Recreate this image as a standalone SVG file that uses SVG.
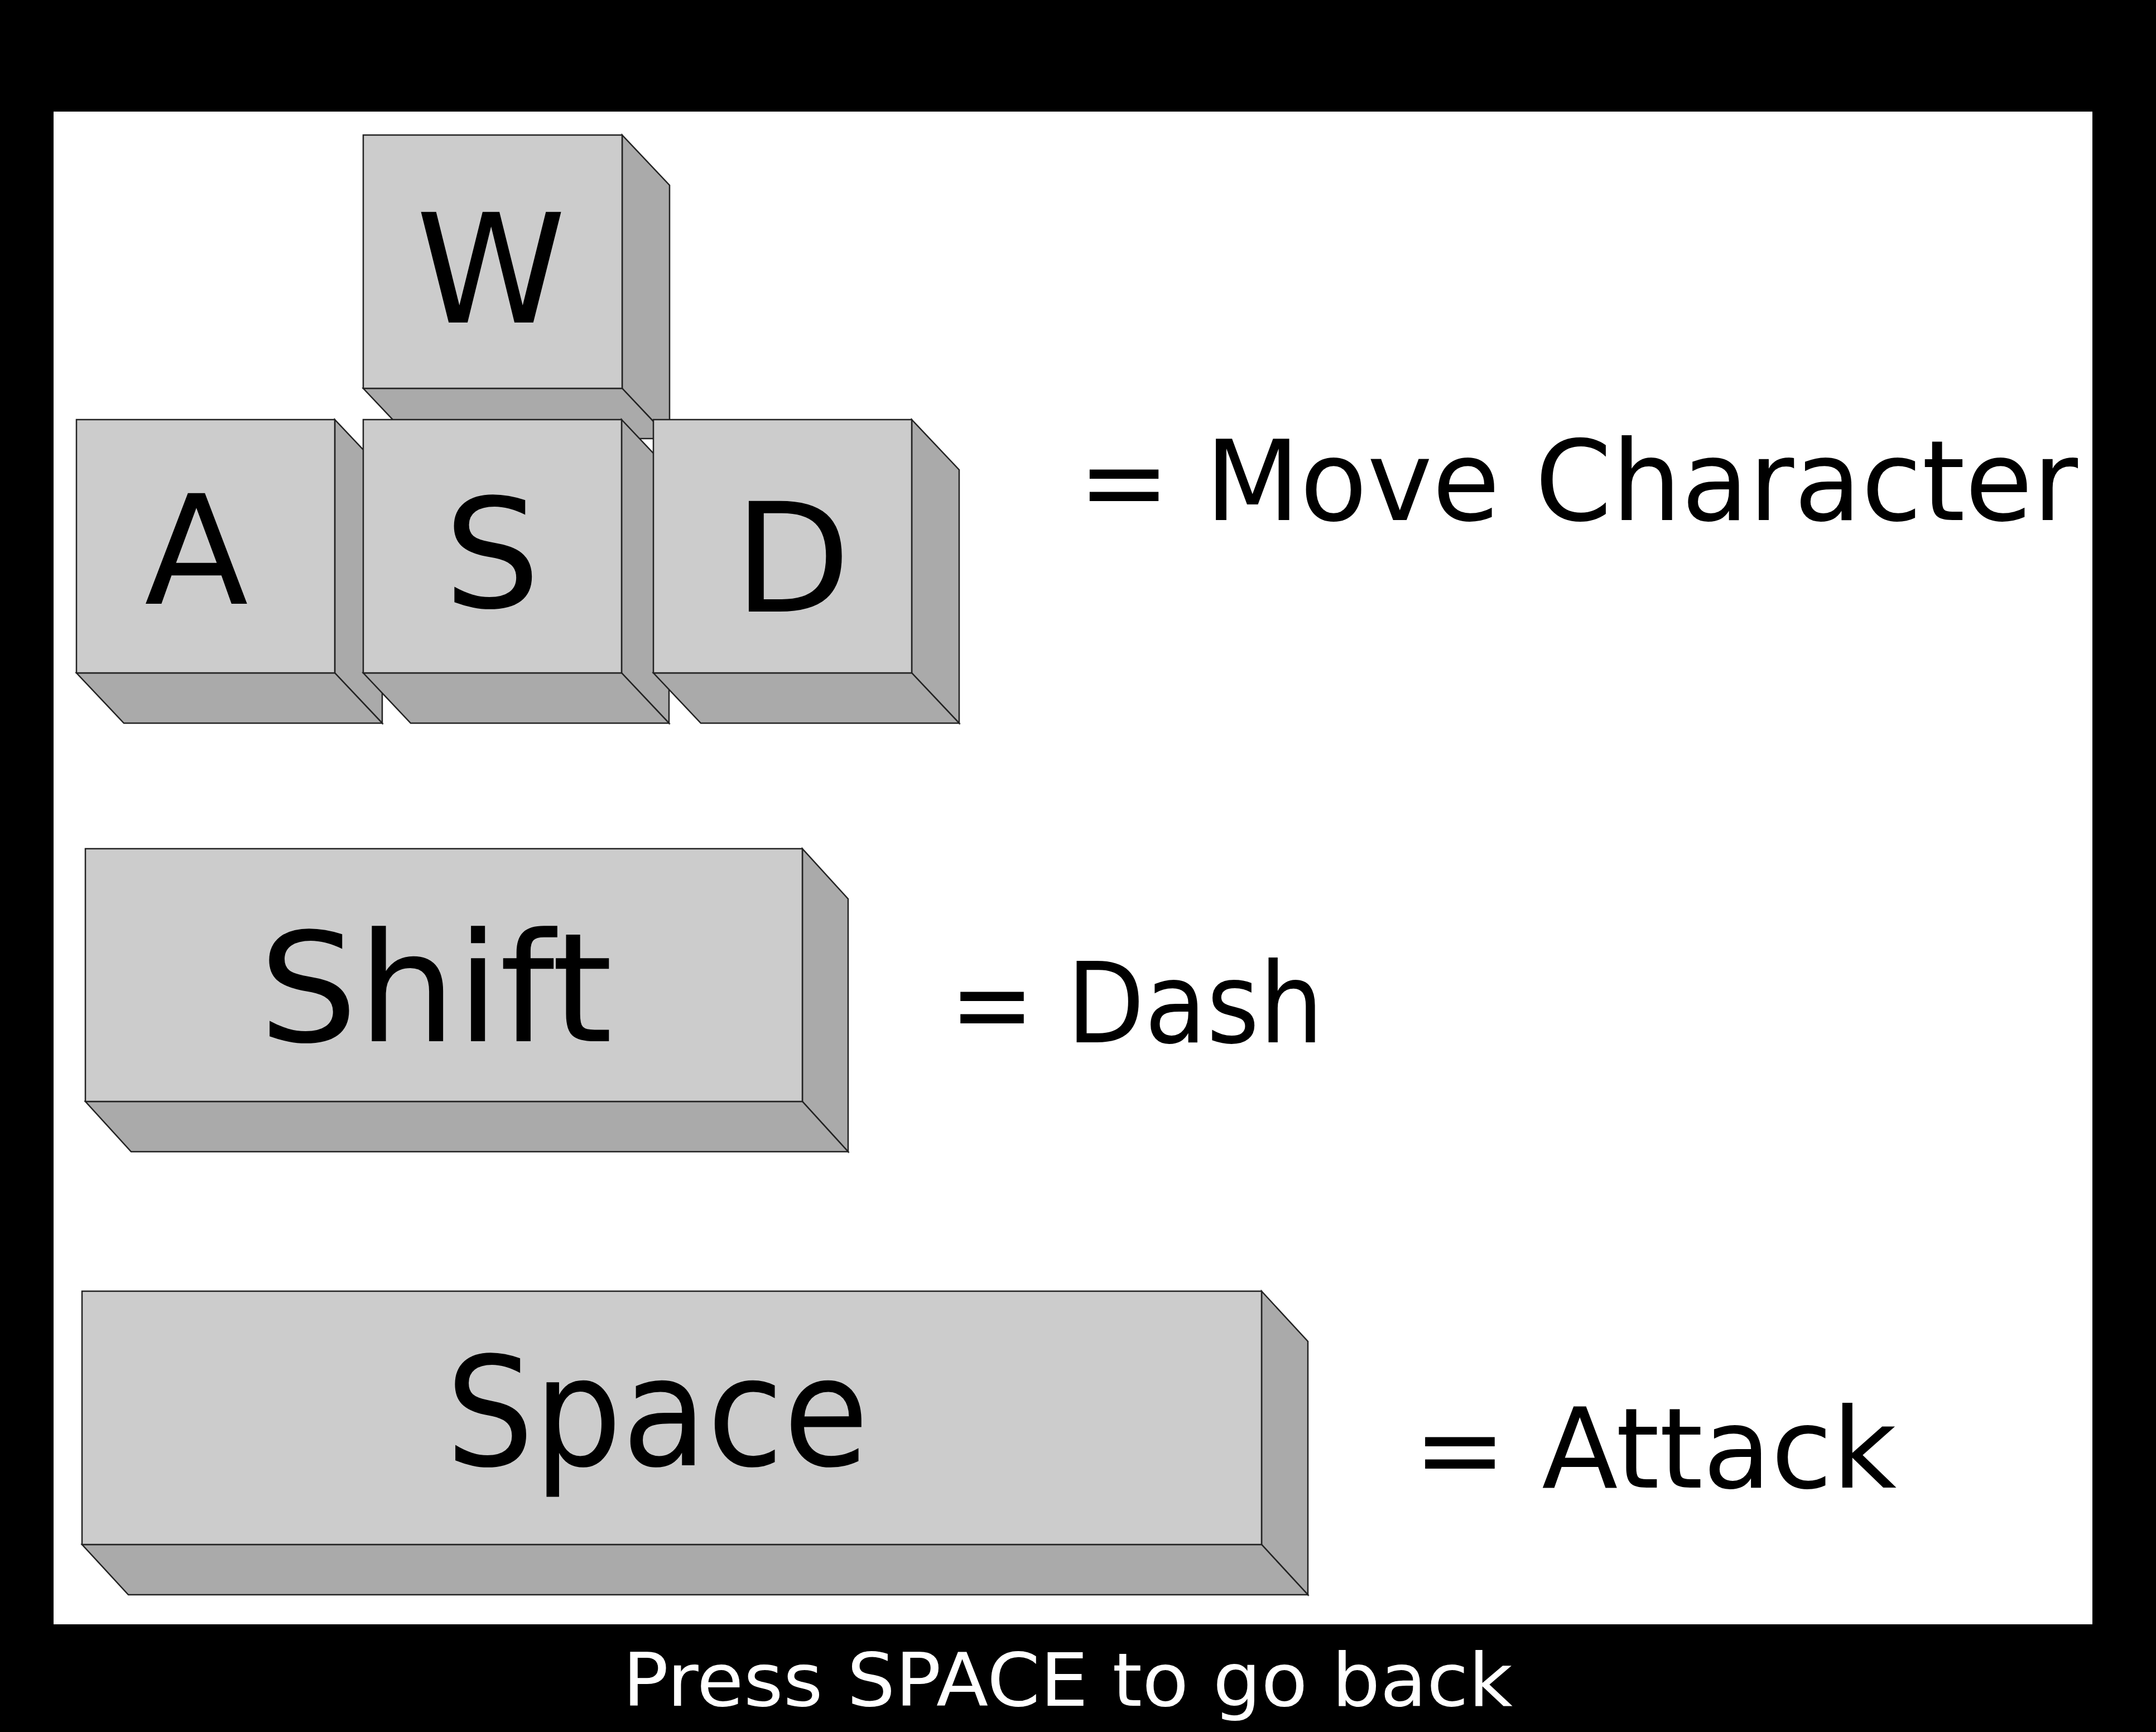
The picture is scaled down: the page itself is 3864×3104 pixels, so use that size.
<svg xmlns="http://www.w3.org/2000/svg" width="3864" height="3104" viewBox="0 0 3864 3104">
<style>
.front{fill:#cccccc;stroke:#222222;stroke-width:2.5}
.depth{fill:#aaaaaa;stroke:#222222;stroke-width:2.5;stroke-linejoin:miter}
.key{font-family:"DejaVu Sans","Liberation Sans",sans-serif;font-size:272px;fill:#000000;text-anchor:middle}
.label{font-family:"DejaVu Sans","Liberation Sans",sans-serif;font-size:200px;fill:#000000}
.footer{font-family:"DejaVu Sans","Liberation Sans",sans-serif;font-size:132px;fill:#ffffff}
</style>
<rect x="0" y="0" width="3864" height="3104" fill="#000000"/>
<rect x="96" y="200" width="3654" height="2711" fill="#ffffff"/>

<g id="key-w">
<polygon class="depth" points="1115,242 1200,332 1200,786 1115,696"/>
<polygon class="depth" points="651,696 1115,696 1200,786 736,786"/>
<rect class="front" x="651" y="242" width="464" height="454"/>
<text class="key" x="880" y="578">W</text>
</g>
<g id="key-a">
<polygon class="depth" points="600,752 685,842 685,1296 600,1206"/>
<polygon class="depth" points="137,1206 600,1206 685,1296 222,1296"/>
<rect class="front" x="137" y="752" width="463" height="454"/>
<text class="key" x="352" y="1082">A</text>
</g>
<g id="key-s">
<polygon class="depth" points="1114,752 1199,842 1199,1296 1114,1206"/>
<polygon class="depth" points="651,1206 1114,1206 1199,1296 736,1296"/>
<rect class="front" x="651" y="752" width="463" height="454"/>
<text class="key" x="882" y="1088">S</text>
</g>
<g id="key-d">
<polygon class="depth" points="1634,752 1719,842 1719,1296 1634,1206"/>
<polygon class="depth" points="1171,1206 1634,1206 1719,1296 1256,1296"/>
<rect class="front" x="1171" y="752" width="463" height="454"/>
<text class="key" x="1420" y="1096">D</text>
</g>
<g id="key-shift">
<polygon class="depth" points="1438,1521 1520,1611 1520,2064 1438,1974"/>
<polygon class="depth" points="153,1974 1438,1974 1520,2064 235,2064"/>
<rect class="front" x="153" y="1521" width="1285" height="453"/>
<text class="key" x="781" y="1866" textLength="634" lengthAdjust="spacingAndGlyphs">Shift</text>
</g>
<g id="key-space">
<polygon class="depth" points="2261,2314 2344,2404 2344,2858 2261,2768"/>
<polygon class="depth" points="147,2768 2261,2768 2344,2858 230,2858"/>
<rect class="front" x="147" y="2314" width="2114" height="454"/>
<text class="key" x="1178" y="2626" textLength="758" lengthAdjust="spacingAndGlyphs">Space</text>
</g>

<g id="labels">
<text class="label" x="1932" y="932" textLength="1792" lengthAdjust="spacingAndGlyphs">= Move Character</text>
<text class="label" x="1702" y="1868" textLength="670" lengthAdjust="spacingAndGlyphs">= Dash</text>
<text class="label" x="2533" y="2666" textLength="866" lengthAdjust="spacingAndGlyphs">= Attack</text>
<text class="footer" x="1116" y="3057" textLength="1595" lengthAdjust="spacingAndGlyphs">Press SPACE to go back</text>
</g>
<g id="connectors"></g>
</svg>
